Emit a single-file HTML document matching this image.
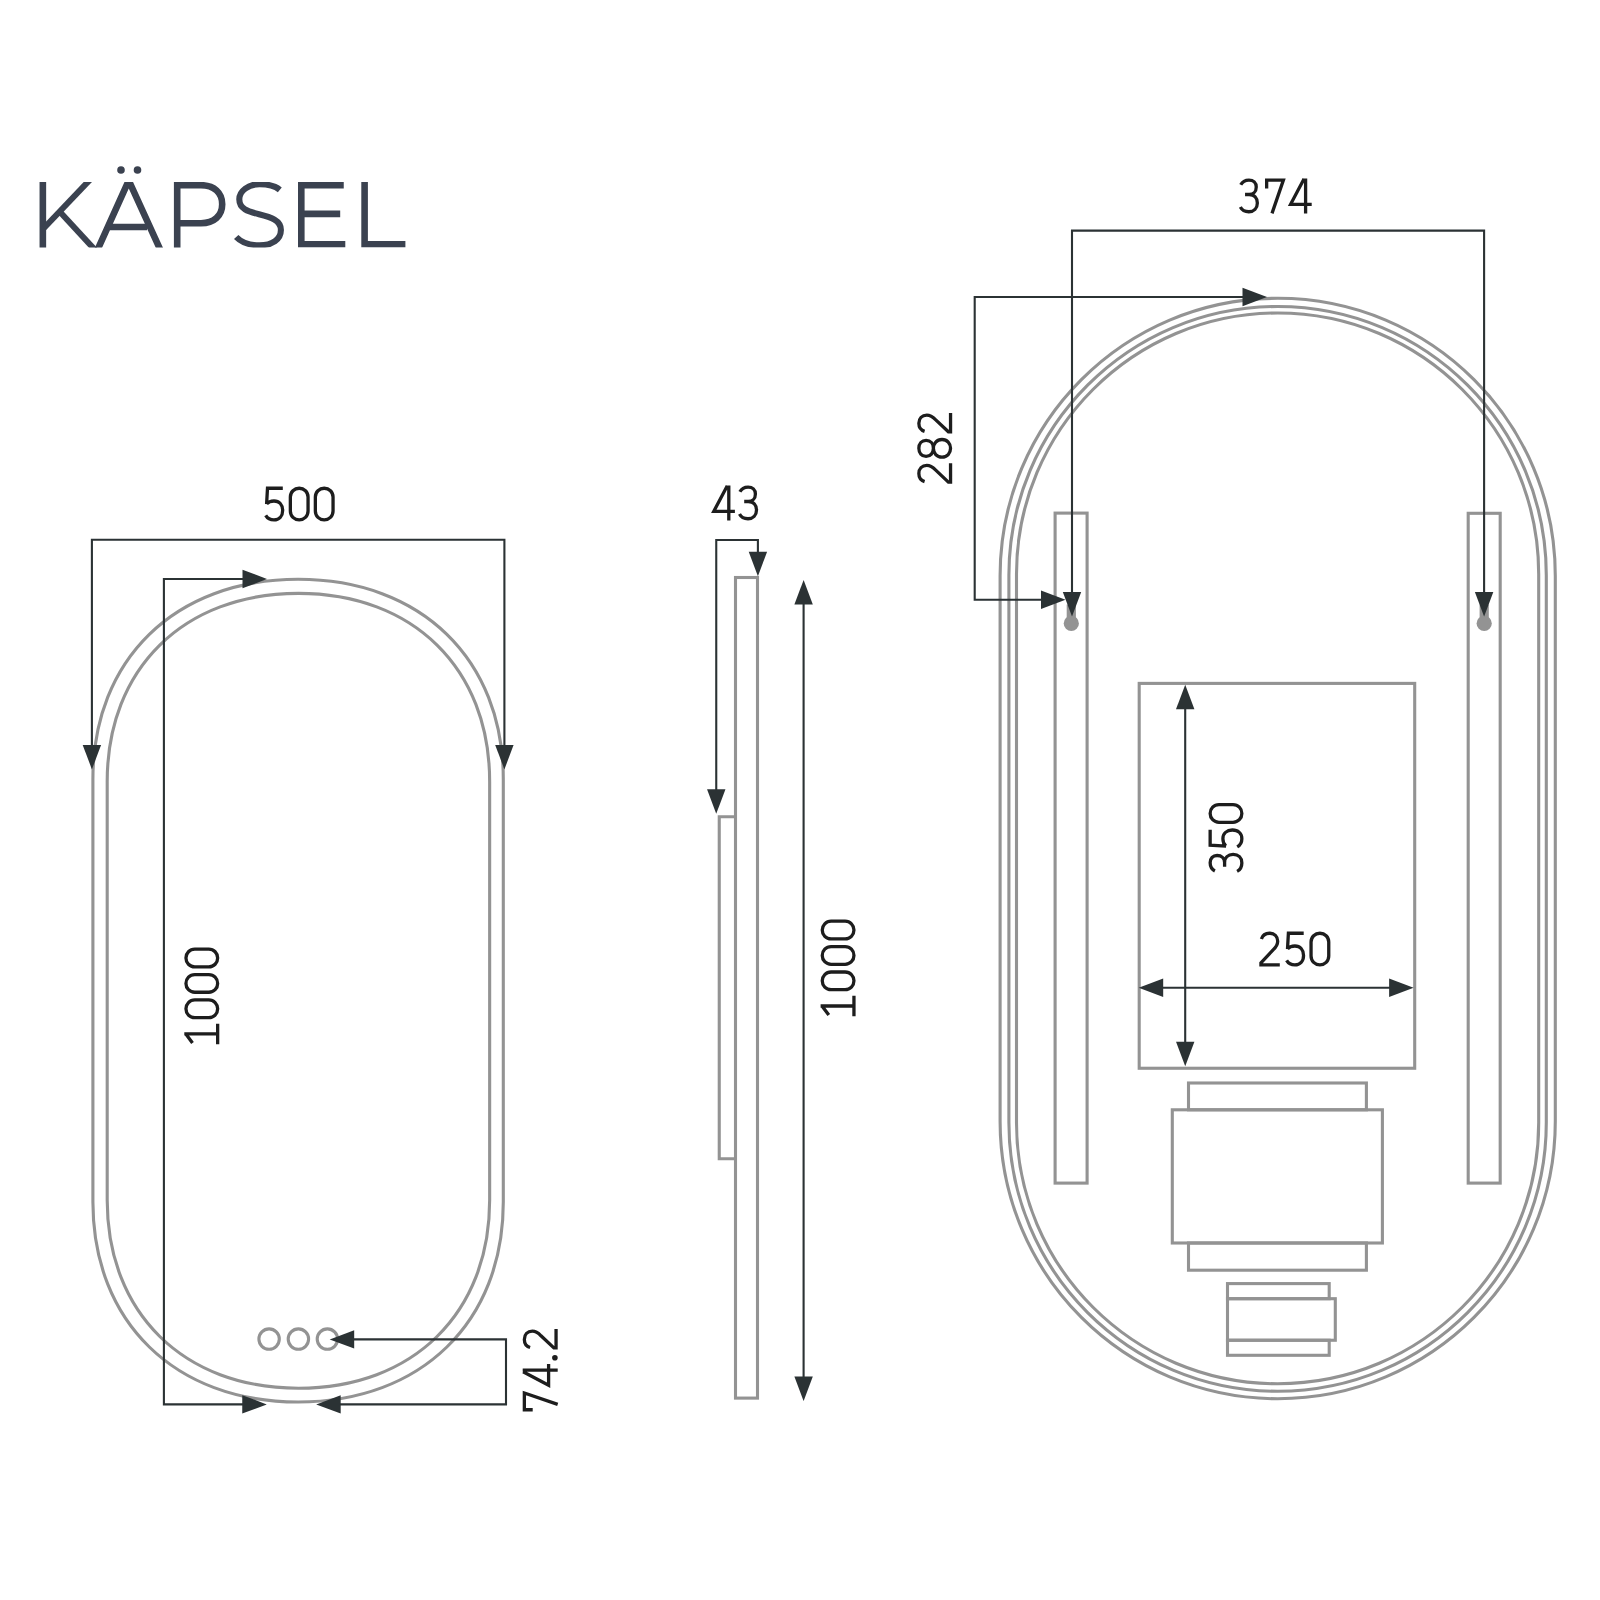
<!DOCTYPE html><html><head><meta charset="utf-8"><title>KÄPSEL</title><style>html,body{margin:0;padding:0;background:#fff;}svg{display:block;}</style></head><body>
<svg width="1600" height="1600" viewBox="0 0 1600 1600">
<rect width="1600" height="1600" fill="#fff"/>
<defs><clipPath id="tc"><rect x="0" y="181.9" width="600" height="65.6"/></clipPath></defs>
<g fill="none" stroke="#3b4250" stroke-width="6.6" clip-path="url(#tc)">
<path d="M42.85,170 V260"/>
<path stroke-width="6.0" d="M94.5,175 L44,228"/>
<path stroke-width="6.0" d="M60.5,212.5 L96,251"/>
<path d="M94.3,257 L128.75,180.5 L163.6,257"/>
<path d="M110,227 H147"/>
<path d="M177.2,170 V260 M177.2,185.2 H201 C214,185.2 222.2,192.8 222.2,204.2 C222.2,215.6 214,223.2 201,223.2 H177.2"/>
<path stroke-width="6.1" d="M279.8,189.8 C275.5,186.2 268,184.2 259.5,184.2 C248.5,184.2 239.3,191 239.3,199.3 C239.3,209 248,211.5 259,214.3 C271,217.3 280.9,220.5 280.9,230 C280.9,239.5 272,245.3 259.5,245.3 C249.5,245.3 241,242 236.2,237"/>
<path d="M343.75,185.2 H301.3 V244.2 H345.3 M301.3,213.9 H340.2"/>
<path d="M364.6,170 V244.2 H405.4"/>
</g>
<g fill="#3b4250"><circle cx="121" cy="170" r="3.8"/><circle cx="137.5" cy="170" r="3.8"/></g>
<g fill="none" stroke="#939393" stroke-width="3.1">
<path d="M92.9,779.3 C92.9,659.3 174.98,579.3 298.1,579.3 C421.22,579.3 503.3,659.3 503.3,779.3 L503.3,1202 C503.3,1322 421.22,1402 298.1,1402 C174.98,1402 92.9,1322 92.9,1202 Z"/>
<path d="M107.2,781.4 C107.2,668.6 183.69,593.4 298.43,593.4 C413.16,593.4 489.65,668.6 489.65,781.4 L489.65,1200.2 C489.65,1313 413.16,1388.2 298.43,1388.2 C183.69,1388.2 107.2,1313 107.2,1200.2 Z"/>
<circle cx="269.1" cy="1339.1" r="10.2"/>
<circle cx="298.4" cy="1339.1" r="10.2"/>
<circle cx="327.4" cy="1339.1" r="10.2"/>
<rect x="735.5" y="577.5" width="22" height="820.6"/>
<polyline points="735.5,816.75 719.25,816.75 719.25,1158.75 735.5,1158.75"/>
<path d="M1000.1,575.9 C1000.1,422.58 1124.38,298.3 1277.7,298.3 C1431.02,298.3 1555.3,422.58 1555.3,575.9 L1555.3,1121.15 C1555.3,1274.47 1431.02,1398.75 1277.7,1398.75 C1124.38,1398.75 1000.1,1274.47 1000.1,1121.15 Z"/>
<path d="M1008.9,575.2 C1008.9,426.8 1129.2,306.5 1277.6,306.5 C1426,306.5 1546.3,426.8 1546.3,575.2 L1546.3,1122.55 C1546.3,1270.95 1426,1391.25 1277.6,1391.25 C1129.2,1391.25 1008.9,1270.95 1008.9,1122.55 Z"/>
<path d="M1016.5,574.1 C1016.5,429.89 1133.39,313 1277.6,313 C1421.81,313 1538.7,429.89 1538.7,574.1 L1538.7,1122.65 C1538.7,1266.86 1421.81,1383.75 1277.6,1383.75 C1133.39,1383.75 1016.5,1266.86 1016.5,1122.65 Z"/>
<rect x="1055.1" y="513.1" width="32" height="670"/>
<rect x="1468.2" y="513.3" width="32" height="669.8"/>
<rect x="1139.2" y="683.4" width="275.5" height="384.85"/>
<rect x="1188.5" y="1083" width="177.9" height="26.8"/>
<rect x="1172.3" y="1109.8" width="210.1" height="133.2"/>
<rect x="1188.5" y="1243" width="177.9" height="27.2"/>
<rect x="1227.5" y="1283.6" width="101.7" height="15.1"/>
<rect x="1227.5" y="1298.7" width="107.8" height="41.55"/>
<rect x="1227.5" y="1340.25" width="101.7" height="15.05"/>
</g>
<g fill="#939393">
<circle cx="1071.3" cy="623.4" r="7.6"/>
<rect x="1066.7" y="604.5" width="9.2" height="19"/>
<circle cx="1484.2" cy="623.4" r="7.6"/>
<rect x="1479.6" y="604.5" width="9.2" height="19"/>
</g>
<g fill="none" stroke="#2b3234" stroke-width="2.1">
<polyline points="91.9,750 91.9,539.7 504.4,539.7 504.4,750"/>
<polyline points="245,579 163.9,579 163.9,1404.4 245,1404.4"/>
<polyline points="338,1404.4 506,1404.4 506,1339.4 352,1339.4"/>
<polyline points="716.25,795 716.25,540 757.9,540 757.9,555"/>
<polyline points="803.6,600 803.6,1380"/>
<polyline points="1072,596 1072,230.6 1484.1,230.6 1484.1,596"/>
<polyline points="1246,297 974.7,297 974.7,599.8 1048,599.8"/>
<polyline points="1185.2,705 1185.2,1045"/>
<polyline points="1160,987.7 1392,987.7"/>
</g>
<g fill="#2b3234">
<polygon points="91.9,769.4 82.7,744.9 101.1,744.9"/>
<polygon points="504.4,769.4 495.2,744.9 513.6,744.9"/>
<polygon points="267,579 242.5,569.8 242.5,588.2"/>
<polygon points="266.75,1404.4 242.25,1395.2 242.25,1413.6"/>
<polygon points="316.2,1404.4 340.7,1395.2 340.7,1413.6"/>
<polygon points="329.7,1339.4 354.2,1330.2 354.2,1348.6"/>
<polygon points="716.25,813.75 707.05,789.25 725.45,789.25"/>
<polygon points="757.9,576.25 748.7,551.75 767.1,551.75"/>
<polygon points="803.6,580 794.4,604.5 812.8,604.5"/>
<polygon points="803.6,1401 794.4,1376.5 812.8,1376.5"/>
<polygon points="1072,616.5 1062.8,592 1081.2,592"/>
<polygon points="1484.1,616.4 1474.9,591.9 1493.3,591.9"/>
<polygon points="1267,297 1242.5,287.8 1242.5,306.2"/>
<polygon points="1065.5,599.8 1041,590.6 1041,609"/>
<polygon points="1185.2,684.7 1176,709.2 1194.4,709.2"/>
<polygon points="1185.2,1066.3 1176,1041.8 1194.4,1041.8"/>
<polygon points="1138.7,987.7 1163.2,978.5 1163.2,996.9"/>
<polygon points="1413.6,987.7 1389.1,978.5 1389.1,996.9"/>
</g>
<g transform="translate(264.3,486.6)" fill="none" stroke="#1d1d1d" stroke-width="3.3" stroke-linejoin="miter" stroke-miterlimit="4"><path transform="translate(0,0)" d="M18.5,1.65 H3.2 L2.3,17.6 M2.3,17.4 C4.0,15.4 6.6,14.4 9.7,14.4 C14.9,14.4 18.35,18.3 18.35,23.9 C18.35,29.6 14.8,33.35 9.7,33.35 C6.0,33.35 3.1,31.6 1.4,28.7"/><path transform="translate(24.4,0)" d="M10.5,1.65 C15.4,1.65 19.35,5.4 19.35,10.5 L19.35,24.5 C19.35,29.6 15.4,33.35 10.5,33.35 C5.6,33.35 1.65,29.6 1.65,24.5 L1.65,10.5 C1.65,5.4 5.6,1.65 10.5,1.65 Z"/><path transform="translate(49.4,0)" d="M10.5,1.65 C15.4,1.65 19.35,5.4 19.35,10.5 L19.35,24.5 C19.35,29.6 15.4,33.35 10.5,33.35 C5.6,33.35 1.65,29.6 1.65,24.5 L1.65,10.5 C1.65,5.4 5.6,1.65 10.5,1.65 Z"/></g>
<g transform="translate(711.9,485.4)" fill="none" stroke="#1d1d1d" stroke-width="3.3" stroke-linejoin="miter" stroke-miterlimit="4"><path transform="translate(0,0)" d="M23,25.9 H1.9 L15.4,0.4 M16.9,0 V35"/><path transform="translate(26,0)" d="M2.0,6.4 C3.6,3.3 6.5,1.65 10.2,1.65 C14.6,1.65 17.5,4.4 17.5,8.6 C17.5,13.0 14.5,16.1 10.4,16.1 H6.3 M10.4,16.1 C15.5,16.1 18.6,19.6 18.6,24.6 C18.6,29.9 15.1,33.35 10.1,33.35 C6.1,33.35 3.1,31.5 1.6,28.6"/></g>
<g transform="translate(1238.75,178.4)" fill="none" stroke="#1d1d1d" stroke-width="3.3" stroke-linejoin="miter" stroke-miterlimit="4"><path transform="translate(0,0)" d="M2.0,6.4 C3.6,3.3 6.5,1.65 10.2,1.65 C14.6,1.65 17.5,4.4 17.5,8.6 C17.5,13.0 14.5,16.1 10.4,16.1 H6.3 M10.4,16.1 C15.5,16.1 18.6,19.6 18.6,24.6 C18.6,29.9 15.1,33.35 10.1,33.35 C6.1,33.35 3.1,31.5 1.6,28.6"/><path transform="translate(26.25,0)" d="M1.65,10 V1.65 H18.4 L7.0,35"/><path transform="translate(49.95,0)" d="M23,25.9 H1.9 L15.4,0.4 M16.9,0 V35"/></g>
<g transform="translate(1259.3,931.6)" fill="none" stroke="#1d1d1d" stroke-width="3.3" stroke-linejoin="miter" stroke-miterlimit="4"><path transform="translate(0,0)" d="M2.1,7.4 C3.3,3.6 6.3,1.65 10.2,1.65 C15,1.65 18.4,4.9 18.4,9.6 C18.4,13.1 16.6,15.6 13.8,18.3 L1.65,31.2 V33.35 H20.5"/><path transform="translate(25.9,0)" d="M18.5,1.65 H3.2 L2.3,17.6 M2.3,17.4 C4.0,15.4 6.6,14.4 9.7,14.4 C14.9,14.4 18.35,18.3 18.35,23.9 C18.35,29.6 14.8,33.35 9.7,33.35 C6.0,33.35 3.1,31.6 1.4,28.7"/><path transform="translate(50.1,0)" d="M10.5,1.65 C15.4,1.65 19.35,5.4 19.35,10.5 L19.35,24.5 C19.35,29.6 15.4,33.35 10.5,33.35 C5.6,33.35 1.65,29.6 1.65,24.5 L1.65,10.5 C1.65,5.4 5.6,1.65 10.5,1.65 Z"/></g>
<g transform="translate(184.3,1044.2) rotate(-90)" fill="none" stroke="#1d1d1d" stroke-width="3.3" stroke-linejoin="miter" stroke-miterlimit="4"><path transform="translate(0,0)" d="M10.25,0 V35 M0,33.35 H20.5 M10.6,1.2 L1.2,8.2"/><path transform="translate(24.9,0)" d="M10.5,1.65 C15.4,1.65 19.35,5.4 19.35,10.5 L19.35,24.5 C19.35,29.6 15.4,33.35 10.5,33.35 C5.6,33.35 1.65,29.6 1.65,24.5 L1.65,10.5 C1.65,5.4 5.6,1.65 10.5,1.65 Z"/><path transform="translate(50.3,0)" d="M10.5,1.65 C15.4,1.65 19.35,5.4 19.35,10.5 L19.35,24.5 C19.35,29.6 15.4,33.35 10.5,33.35 C5.6,33.35 1.65,29.6 1.65,24.5 L1.65,10.5 C1.65,5.4 5.6,1.65 10.5,1.65 Z"/><path transform="translate(75.7,0)" d="M10.5,1.65 C15.4,1.65 19.35,5.4 19.35,10.5 L19.35,24.5 C19.35,29.6 15.4,33.35 10.5,33.35 C5.6,33.35 1.65,29.6 1.65,24.5 L1.65,10.5 C1.65,5.4 5.6,1.65 10.5,1.65 Z"/></g>
<g transform="translate(820.6,1016.25) rotate(-90)" fill="none" stroke="#1d1d1d" stroke-width="3.3" stroke-linejoin="miter" stroke-miterlimit="4"><path transform="translate(0,0)" d="M10.25,0 V35 M0,33.35 H20.5 M10.6,1.2 L1.2,8.2"/><path transform="translate(24.9,0)" d="M10.5,1.65 C15.4,1.65 19.35,5.4 19.35,10.5 L19.35,24.5 C19.35,29.6 15.4,33.35 10.5,33.35 C5.6,33.35 1.65,29.6 1.65,24.5 L1.65,10.5 C1.65,5.4 5.6,1.65 10.5,1.65 Z"/><path transform="translate(50.3,0)" d="M10.5,1.65 C15.4,1.65 19.35,5.4 19.35,10.5 L19.35,24.5 C19.35,29.6 15.4,33.35 10.5,33.35 C5.6,33.35 1.65,29.6 1.65,24.5 L1.65,10.5 C1.65,5.4 5.6,1.65 10.5,1.65 Z"/><path transform="translate(75.7,0)" d="M10.5,1.65 C15.4,1.65 19.35,5.4 19.35,10.5 L19.35,24.5 C19.35,29.6 15.4,33.35 10.5,33.35 C5.6,33.35 1.65,29.6 1.65,24.5 L1.65,10.5 C1.65,5.4 5.6,1.65 10.5,1.65 Z"/></g>
<g transform="translate(917.2,483.75) rotate(-90)" fill="none" stroke="#1d1d1d" stroke-width="3.3" stroke-linejoin="miter" stroke-miterlimit="4"><path transform="translate(0,0)" d="M2.1,7.4 C3.3,3.6 6.3,1.65 10.2,1.65 C15,1.65 18.4,4.9 18.4,9.6 C18.4,13.1 16.6,15.6 13.8,18.3 L1.65,31.2 V33.35 H20.5"/><path transform="translate(24.9,0)" d="M10.5,16.2 C6.0,16.2 2.5,13.3 2.5,8.9 C2.5,4.5 6.0,1.65 10.5,1.65 C15.0,1.65 18.5,4.5 18.5,8.9 C18.5,13.3 15.0,16.2 10.5,16.2 Z M10.5,16.2 C15.4,16.2 19.35,19.6 19.35,24.8 C19.35,30.0 15.4,33.35 10.5,33.35 C5.6,33.35 1.65,30.0 1.65,24.8 C1.65,19.6 5.6,16.2 10.5,16.2 Z"/><path transform="translate(50.3,0)" d="M2.1,7.4 C3.3,3.6 6.3,1.65 10.2,1.65 C15,1.65 18.4,4.9 18.4,9.6 C18.4,13.1 16.6,15.6 13.8,18.3 L1.65,31.2 V33.35 H20.5"/></g>
<g transform="translate(1208.5,873) rotate(-90)" fill="none" stroke="#1d1d1d" stroke-width="3.3" stroke-linejoin="miter" stroke-miterlimit="4"><path transform="translate(0,0)" d="M2.0,6.4 C3.6,3.3 6.5,1.65 10.2,1.65 C14.6,1.65 17.5,4.4 17.5,8.6 C17.5,13.0 14.5,16.1 10.4,16.1 H6.3 M10.4,16.1 C15.5,16.1 18.6,19.6 18.6,24.6 C18.6,29.9 15.1,33.35 10.1,33.35 C6.1,33.35 3.1,31.5 1.6,28.6"/><path transform="translate(24.65,0)" d="M18.5,1.65 H3.2 L2.3,17.6 M2.3,17.4 C4.0,15.4 6.6,14.4 9.7,14.4 C14.9,14.4 18.35,18.3 18.35,23.9 C18.35,29.6 14.8,33.35 9.7,33.35 C6.0,33.35 3.1,31.6 1.4,28.7"/><path transform="translate(49.05,0)" d="M10.5,1.65 C15.4,1.65 19.35,5.4 19.35,10.5 L19.35,24.5 C19.35,29.6 15.4,33.35 10.5,33.35 C5.6,33.35 1.65,29.6 1.65,24.5 L1.65,10.5 C1.65,5.4 5.6,1.65 10.5,1.65 Z"/></g>
<g transform="translate(522.7,1411.4) rotate(-90)" fill="none" stroke="#1d1d1d" stroke-width="3.3" stroke-linejoin="miter" stroke-miterlimit="4"><path transform="translate(0,0)" d="M1.65,10 V1.65 H18.4 L7.0,35"/><path transform="translate(24.3,0)" d="M23,25.9 H1.9 L15.4,0.4 M16.9,0 V35"/><circle cx="53.7" cy="32.2" r="2.8" fill="#1d1d1d" stroke="none"/><path transform="translate(61.8,0)" d="M2.1,7.4 C3.3,3.6 6.3,1.65 10.2,1.65 C15,1.65 18.4,4.9 18.4,9.6 C18.4,13.1 16.6,15.6 13.8,18.3 L1.65,31.2 V33.35 H20.5"/></g>
</svg></body></html>
